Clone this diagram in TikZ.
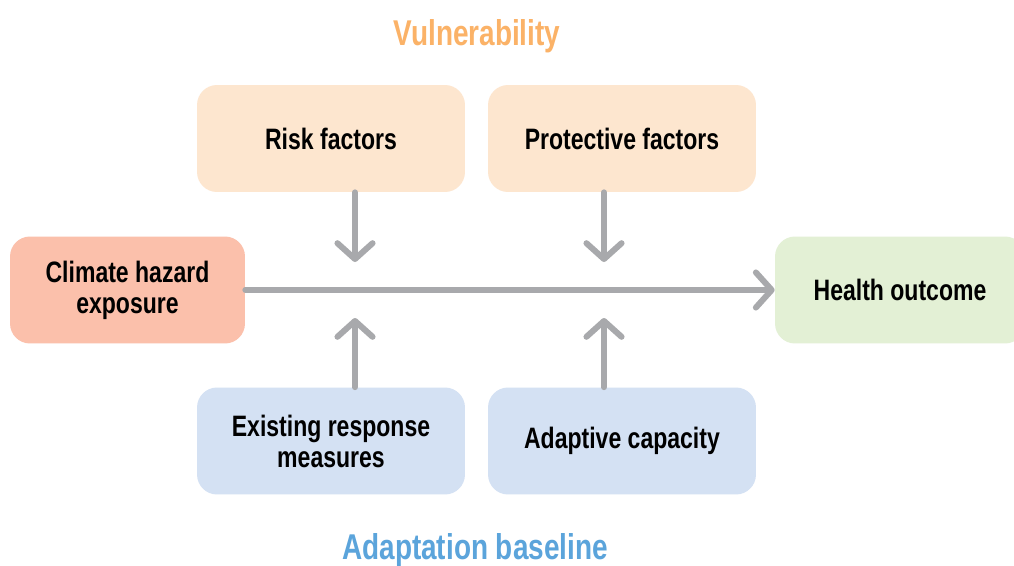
\documentclass[tikz,border=0pt]{standalone}
\usepackage{fontspec}
\setmainfont{Liberation Sans}[FakeStretch=0.78]
\usetikzlibrary{arrows.meta}
\definecolor{riskfill}{HTML}{FDE6CF}
\definecolor{climfill}{HTML}{FBC0AB}
\definecolor{healthfill}{HTML}{E3F0D5}
\definecolor{adaptfill}{HTML}{D4E1F3}
\definecolor{vultitle}{HTML}{FBB267}
\definecolor{adatitle}{HTML}{5BA4DB}
\definecolor{arrowgray}{HTML}{A8A9AC}
\begin{document}
\begin{tikzpicture}[x=0.02cm,y=-0.02cm,
  box/.style={rounded corners=0.4cm, inner sep=0pt, minimum width=5.36cm, minimum height=2.14cm,
    align=center, font=\fontsize{16.8pt}{17.6pt}\selectfont\bfseries},
  title/.style={inner sep=0pt, font=\fontsize{20.4pt}{22pt}\selectfont\bfseries},
  conn/.style={draw=arrowgray, line width=3.4pt, line cap=round,
    -{Straight Barb[length=9pt,width=20pt,round]}}]
\useasboundingbox (0,0) rectangle (1014,565);
\fill[white] (0,0) rectangle (1014,565);
\clip (0,0) rectangle (1014,565);
\node[title, text=vultitle] (vt) at (477,36) {Vulnerability};
\node[title, text=adatitle] (at) at (475,550) {Adaptation baseline};
\node[box, fill=riskfill] (risk) at (331,138.5) {Risk factors};
\node[box, fill=riskfill] (prot) at (622,138.5) {Protective factors};
\node[box, fill=climfill, minimum width=4.7cm] (clim) at (127.5,290) {Climate hazard\\exposure};
\node[box, fill=healthfill, minimum width=5.0cm] (health) at (900,290) {Health outcome};
\node[box, fill=adaptfill] (exist) at (331,441) {Existing response\\measures};
\node[box, fill=adaptfill] (adapt) at (622,441) {Adaptive capacity};
\coordinate (t1) at (355,262);
\coordinate (t2) at (604,262);
\coordinate (b1) at (355,318);
\coordinate (b2) at (604,318);
\draw[conn] (risk.south -| t1) -- (t1);
\draw[conn] (prot.south -| t2) -- (t2);
\draw[conn] (exist.north -| b1) -- (b1);
\draw[conn] (adapt.north -| b2) -- (b2);
\draw[conn] (clim.east) -- (health.west);
\end{tikzpicture}
\end{document}
